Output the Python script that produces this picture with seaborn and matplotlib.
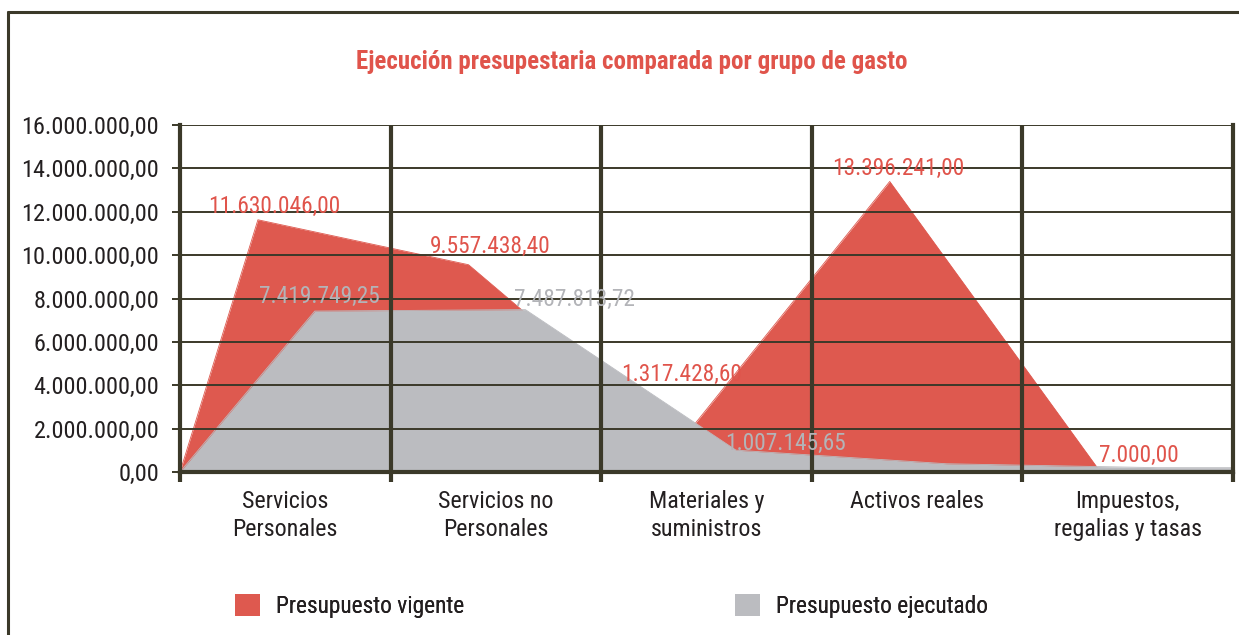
import matplotlib
matplotlib.use("Agg")
import matplotlib.pyplot as plt
from matplotlib.lines import Line2D
from matplotlib.patches import Patch
from matplotlib import font_manager
import seaborn as sns
import pandas as pd
import numpy as np

# ---------------- data ----------------
categories = ["Servicios\nPersonales", "Servicios no\nPersonales", "Materiales y\nsuministros",
              "Activos reales", "Impuestos,\nregalias y tasas"]
vigente = [11630046.00, 9557438.40, 1317428.60, 13396241.00, 7000.00]
ejecutado = [7419749.25, 7487813.72, 1007145.65, 380000.0, 200000.0]
labeled_ejecutado = [True, True, True, False, False]
y_ticks = [0, 2e6, 4e6, 6e6, 8e6, 10e6, 12e6, 14e6, 16e6]
title = "Ejecución presupestaria comparada por grupo de gasto"
series_names = ["Presupuesto vigente", "Presupuesto ejecutado"]

# ---------------- style ----------------
RED = "#de594f"
RED_TXT = "#e0544b"
GRAY = "#bbbcc0"
GRAY_TXT = "#b3b4b8"
DARK = "#3b3929"
TXT = "#231f20"

sns.set_theme(style="white")

# choose a condensed family if one is installed
names = {(f.name, f.stretch) for f in font_manager.fontManager.ttflist}
fam_names = {n for n, _ in names}
FAM, STRETCH = "Liberation Sans", "normal"
for cand in ["Liberation Sans Narrow", "Roboto Condensed", "Open Sans Condensed",
             "Noto Sans Condensed", "Noto Sans Display Condensed", "DejaVu Sans Condensed"]:
    if cand in fam_names:
        FAM = cand
        break
else:
    for base in ["Roboto", "Noto Sans", "Open Sans", "Lato", "DejaVu Sans"]:
        if any(n == base and (s in ("condensed", "semi-condensed", "extra-condensed") or
                              (isinstance(s, (int, float)) and s < 500)) for n, s in names):
            FAM, STRETCH = base, "condensed"
            break
plt.rcParams["font.family"] = [FAM, "Liberation Sans", "DejaVu Sans"]
plt.rcParams["font.stretch"] = STRETCH

W, H = 1239, 635
fig = plt.figure(figsize=(W / 100, H / 100), dpi=100)
fig.patch.set_facecolor("white")
renderer = fig.canvas.get_renderer()


def text_width(s, size, weight="normal"):
    t = fig.text(0, 0, s, fontsize=size, fontweight=weight)
    w = t.get_window_extent(renderer).width
    t.remove()
    return w

# size scale so that body text roughly has the reference's width
K = min(1.0, 176.0 / text_width(series_names[0], 16.5)) * 1.07
TITLE_SIZE = 17.5 * min(1.0, 548.0 / text_width(title, 17.5, "bold")) * 1.03

ax = fig.add_axes([180 / W, 1 - 472 / H, (1233 - 180) / W, (472 - 125) / H])

n = len(categories)
idx = np.arange(n)
x_red = np.concatenate([[0], idx + 0.37, [n]])
y_red = np.concatenate([[0], vigente, [vigente[-1]]])
x_gray = np.concatenate([[0], idx + 0.64, [n]])
y_gray = np.concatenate([[0], ejecutado, [ejecutado[-1]]])

df = pd.concat([
    pd.DataFrame({"x": x_red, "y": y_red, "serie": series_names[0]}),
    pd.DataFrame({"x": x_gray, "y": y_gray, "serie": series_names[1]}),
])
sns.lineplot(data=df, x="x", y="y", hue="serie", palette=[RED, GRAY], sort=False,
             estimator=None, linewidth=0.6, legend=False, ax=ax, zorder=2)
ax.fill_between(x_red, 0, y_red, color=RED, linewidth=0, zorder=1)
ax.fill_between(x_gray, 0, y_gray, color=GRAY, linewidth=0, zorder=3)

ax.set_xlim(0, n)
ax.set_ylim(0, 16e6)

for y in y_ticks[1:]:
    ax.axhline(y, color=DARK, lw=1.4, zorder=4)
for xb in range(1, n):
    ax.axvline(xb, color=DARK, lw=3.0, zorder=5)
ax.spines["top"].set_visible(False)
for s in ["left", "right", "bottom"]:
    ax.spines[s].set_color(DARK)
    ax.spines[s].set_linewidth(3.0)
    ax.spines[s].set_zorder(6)


def fmt(v):
    s = f"{v:,.2f}"
    return s.replace(",", "X").replace(".", ",").replace("X", ".")

ax.set_yticks(y_ticks)
ax.set_yticklabels([fmt(v) for v in y_ticks], fontsize=17.5 * min(1.0, K), color=TXT)
ax.tick_params(axis="y", length=6, width=1.4, color=DARK, pad=9, left=True)

ax.set_xticks(np.arange(n + 1))
ax.set_xticklabels([])
ax.tick_params(axis="x", which="major", length=7, width=3, color=DARK, bottom=True)
ax.set_xticks(idx + 0.5, minor=True)
ax.set_xticklabels(categories, minor=True, fontsize=17 * K, color=TXT, linespacing=1.3)
ax.tick_params(axis="x", which="minor", length=0, pad=13)
ax.set_xlabel("")
ax.set_ylabel("")

red_off = [(11.5, 5), (16, 8.5), (1.5, 45), (5.8, 5), (28, 7)]
gray_off = [(3.6, 5.5), (35, 2.5), (36, 0)]
for i, v in enumerate(vigente):
    ax.annotate(fmt(v), (idx[i] + 0.37, v), xytext=red_off[i], textcoords="offset points",
                ha="center", va="baseline", color=RED_TXT, fontsize=16.5 * K, zorder=10)
k = 0
for i, v in enumerate(ejecutado):
    if labeled_ejecutado[i]:
        ax.annotate(fmt(v), (idx[i] + 0.64, v), xytext=gray_off[k], textcoords="offset points",
                    ha="center", va="baseline", color=GRAY_TXT, fontsize=16.5 * K, zorder=10)
        k += 1

fig.text(632 / W, 1 - 62 / H, title, ha="center", va="center", color=RED_TXT,
         fontsize=TITLE_SIZE, fontweight="bold")

LS = 16.5 * K
px_per_em = LS * 100 / 72
for name, col, xpx in [(series_names[0], RED, 235), (series_names[1], GRAY, 735)]:
    lg = fig.legend(handles=[Patch(facecolor=col, edgecolor="none")], labels=[name],
                    loc="center left", bbox_to_anchor=(xpx / W, 1 - 606 / H), frameon=False,
                    fontsize=LS, handlelength=25 / px_per_em, handleheight=25 / px_per_em,
                    handletextpad=16 / px_per_em, borderpad=0, borderaxespad=0)
    for t in lg.get_texts():
        t.set_color(TXT)
    fig.add_artist(lg)

fig.add_artist(Line2D([8 / W, 1], [1 - 12 / H, 1 - 12 / H], color=DARK, lw=2.2))
fig.add_artist(Line2D([8 / W, 8 / W], [0, 1 - 12 / H], color=DARK, lw=2.2))

fig.savefig("out.png", dpi=100, facecolor="white")
